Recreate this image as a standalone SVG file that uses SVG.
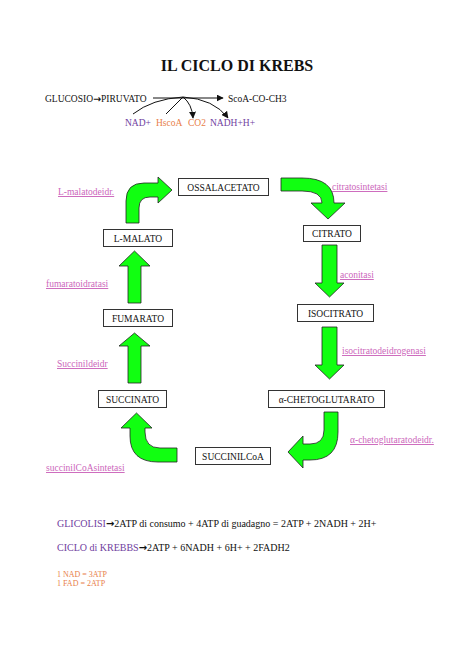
<svg xmlns="http://www.w3.org/2000/svg" width="474" height="670" viewBox="0 0 474 670">
<style>
text{font-family:"Liberation Serif","Times New Roman",serif;fill:#111}
.title{font-size:16px;font-weight:bold;text-anchor:middle}
.t{font-size:9.5px}
.n{font-size:9.5px;text-anchor:middle}
.box{fill:#fff;stroke:#333;stroke-width:1}
.enz{font-size:9.5px;fill:#cc66bb;text-decoration:underline}
.pur{fill:#7040a0}
.ora{fill:#e8804a}
.big{font-size:10px}
.sm{font-size:8px;fill:#e8804a}
.arr{font-family:"DejaVu Sans",sans-serif;font-weight:bold}
.g{fill:#11ff11;stroke:#222;stroke-width:0.8;stroke-linejoin:miter}
.ln{fill:none;stroke:#111;stroke-width:1}
</style>
<defs>
<marker id="ah" viewBox="0 0 10 10" refX="9" refY="5" markerWidth="7" markerHeight="7" orient="auto" markerUnits="userSpaceOnUse">
<path d="M0,0 L10,5 L0,10 Z" fill="#111"/>
</marker>
</defs>
<rect width="474" height="670" fill="#fff"/>
<text class="title" x="237" y="71">IL CICLO DI KREBS</text>

<g id="reaction">
<text class="t" x="45" y="102">GLUCOSIO<tspan class="arr">→</tspan>PIRUVATO</text>
<text class="t" x="228" y="102">ScoA-CO-CH3</text>
<text class="t pur" x="125" y="126">NAD+</text>
<text class="t ora" x="156" y="126">HscoA</text>
<text class="t ora" x="188" y="126">CO2</text>
<text class="t pur" x="210" y="126">NADH+H+</text>
</g>

<g id="connectors">
<line class="ln" x1="153" y1="98" x2="223" y2="98" marker-end="url(#ah)"/>
<path class="ln" d="M133,114 Q152,99 183,97"/>
<path class="ln" d="M166,114 L183,97"/>
<path class="ln" d="M183,97 Q192,104 193,118" marker-end="url(#ah)"/>
<path class="ln" d="M183,97 Q214,99 228,118" marker-end="url(#ah)"/>

<!-- L-MALATO -> OSSALACETATO -->
<path class="g" d="M126,223 L126,201 Q126,183 144,183 L158,183 L158,177 L172,190 L158,203 L158,197 L150,197 Q139,197 139,208 L139,223 Z"/>
<!-- OSSALACETATO -> CITRATO -->
<path class="g" d="M281,178 L302,178 Q334,178 334,203 L345,203 L328,219 L311,203 L322,203 Q322,191 302,191 L281,191 Z"/>
<!-- CITRATO -> ISOCITRATO -->
<path class="g" d="M322,245 L337,245 L337,283 L344,283 L329.5,297 L315,283 L322,283 Z"/>
<!-- ISOCITRATO -> alfa -->
<path class="g" d="M322,327 L337,327 L337,365 L344,365 L329.5,379 L315,365 L322,365 Z"/>
<!-- alfa -> SUCCINILCoA -->
<path class="g" d="M324,412 L338,412 L338,432 Q338,460 310,460 L303,460 L303,468 L288,452 L303,436 L303,444 L310,444 Q324,444 324,430 Z"/>
<!-- SUCCINILCoA -> SUCCINATO -->
<path class="g" d="M177,448 L160,448 Q145,448 145,432 L145,428 L152,428 L136.5,413 L121,428 L130,428 L130,436 Q130,462 158,462 L177,462 Z"/>
<!-- SUCCINATO -> FUMARATO -->
<path class="g" d="M128,383 L141,383 L141,346 L150,346 L134.5,333 L119,346 L128,346 Z"/>
<!-- FUMARATO -> L-MALATO -->
<path class="g" d="M128,303 L141,303 L141,266 L150,266 L134.5,251 L119,266 L128,266 Z"/>
</g>

<g id="ossalacetato"><rect class="box" x="178.5" y="178.5" width="90" height="17"/><text class="n" x="223.5" y="190.5">OSSALACETATO</text></g>
<g id="citrato"><rect class="box" x="303.5" y="225.5" width="57" height="16"/><text class="n" x="332" y="237">CITRATO</text></g>
<g id="isocitrato"><rect class="box" x="297.5" y="304.5" width="76" height="17"/><text class="n" x="335.5" y="316.5">ISOCITRATO</text></g>
<g id="chetoglutarato"><rect class="box" x="268.5" y="390.5" width="116" height="17"/><text class="n" x="326.5" y="402.5">α-CHETOGLUTARATO</text></g>
<g id="succinilcoa"><rect class="box" x="195.5" y="447.5" width="75" height="17"/><text class="n" x="233" y="459.5">SUCCINILCoA</text></g>
<g id="succinato"><rect class="box" x="98.5" y="390.5" width="68" height="17"/><text class="n" x="132.5" y="402.5">SUCCINATO</text></g>
<g id="fumarato"><rect class="box" x="103.5" y="309.5" width="69" height="17"/><text class="n" x="138" y="321.5">FUMARATO</text></g>
<g id="lmalato"><rect class="box" x="103.5" y="229.5" width="69" height="17"/><text class="n" x="138" y="241.5">L-MALATO</text></g>

<g id="enzymes">
<text class="enz" x="58" y="195">L-malatodeidr.</text>
<text class="enz" x="332" y="190">citratosintetasi</text>
<text class="enz" x="340" y="278">aconitasi</text>
<text class="enz" x="342" y="354">isocitratodeidrogenasi</text>
<text class="enz" x="350" y="443">α-chetoglutaratodeidr.</text>
<text class="enz" x="46" y="287">fumaratoidratasi</text>
<text class="enz" x="57" y="367">Succinildeidr</text>
<text class="enz" x="46" y="471">succinilCoAsintetasi</text>
</g>

<g id="summary">
<text class="big" x="57" y="527"><tspan class="pur">GLICOLISI</tspan><tspan class="arr">→</tspan>2ATP di consumo + 4ATP di guadagno = 2ATP + 2NADH + 2H+</text>
<text class="big" x="57" y="551"><tspan class="pur">CICLO di KREBBS</tspan><tspan class="arr">→</tspan>2ATP + 6NADH + 6H+ + 2FADH2</text>
<text class="sm" x="57" y="577">1 NAD = 3ATP</text>
<text class="sm" x="57" y="586">1 FAD = 2ATP</text>
</g>
</svg>
